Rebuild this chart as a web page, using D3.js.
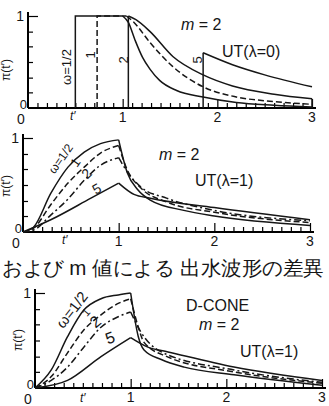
<!DOCTYPE html>
<html>
<head>
<meta charset="utf-8">
<script src="https://cdn.jsdelivr.net/npm/d3@7"></script>
<style>
  body { margin: 0; background: #fff; }
  svg text { font-family: "Liberation Sans", Arial, sans-serif; fill: #161616; }
</style>
</head>
<body>
<svg id="chart" width="329" height="406"></svg>
<script>
//Data, t' on x, pi(t') on y

//Axis ticks
var xTickLabels = [0, 1, 2, 3];
var xMinorTicks = d3.range(1, 31).map(function(d){ return d/10; });
var yMinorTicks = [0.17, 0.33, 0.5, 0.67, 0.83];

//Panel 1: UT (lambda=0)
var ut0_w05 = [[0.5,0],[0.5,1],[1.0,1]];
var ut0_w05_tail = [[1.0,1],[1.06,0.93],[1.13,0.74],[1.21,0.55],[1.29,0.42],[1.39,0.3],[1.57,0.19],[1.85,0.12],[2.2,0.06],[2.6,0.03],[3.0,0.01]];
var ut0_w1 = [[0.73,0],[0.73,1],[1.04,1]];
var ut0_w1_tail = [[1.04,1],[1.12,0.93],[1.29,0.71],[1.53,0.45],[1.85,0.23],[2.2,0.12],[2.6,0.07],[3.0,0.04]];
var ut0_w2 = [[1.06,0],[1.06,1]];
var ut0_w2_tail = [[1.06,1],[1.14,0.96],[1.29,0.83],[1.53,0.56],[1.85,0.36],[2.16,0.24],[2.6,0.15],[3.0,0.10]];
var ut0_w5 = [[1.85,0],[1.85,0.6]];
var ut0_w5_tail = [[1.85,0.6],[2.16,0.47],[2.5,0.36],[3.0,0.23]];

//Panel 2: UT (lambda=1)
var ut1_w05 = [[0,0],[0.11,0.05],[0.29,0.41],[0.47,0.69],[0.64,0.85],[0.81,0.94],[1.0,0.98]];
var ut1_w05_tail = [[1.0,0.98],[1.09,0.63],[1.2,0.45],[1.33,0.34],[1.68,0.23],[2.0,0.17],[3.0,0.07]];
var ut1_w1 = [[0,0],[0.11,0.04],[0.29,0.29],[0.47,0.52],[0.64,0.69],[0.81,0.84],[1.0,0.92]];
var ut1_w1_tail = [[1.0,0.92],[1.09,0.66],[1.23,0.47],[1.5,0.32],[2.0,0.21],[3.0,0.10]];
var ut1_w2 = [[0,0],[0.11,0.02],[0.29,0.18],[0.47,0.35],[0.64,0.55],[0.81,0.71],[1.0,0.79]];
var ut1_w2_tail = [[1.0,0.79],[1.09,0.64],[1.23,0.48],[1.5,0.36],[2.0,0.23],[3.0,0.12]];
var ut1_w5 = [[0,0],[0.29,0.13],[0.71,0.36],[1.0,0.52]];
var ut1_w5_tail = [[1.0,0.52],[1.16,0.4],[1.33,0.36],[2.0,0.26],[3.0,0.13]];

//Panel 3: D-CONE, UT (lambda=1)
var dc_w05 = [[0,0],[0.17,0.19],[0.34,0.54],[0.51,0.82],[0.69,0.94],[0.87,0.98],[1.0,1.0]];
var dc_w05_tail = [[1.0,1.0],[1.08,0.54],[1.14,0.4],[1.32,0.3],[1.56,0.22],[2.08,0.14],[3.0,0.03]];
var dc_w1 = [[0,0],[0.17,0.12],[0.34,0.37],[0.51,0.61],[0.69,0.77],[0.87,0.89],[1.0,0.94]];
var dc_w1_tail = [[1.0,0.94],[1.08,0.64],[1.14,0.48],[1.38,0.33],[2.08,0.17],[3.0,0.05]];
var dc_w2 = [[0,0],[0.17,0.08],[0.34,0.22],[0.51,0.43],[0.69,0.64],[0.87,0.75],[1.0,0.8]];
var dc_w2_tail = [[1.0,0.8],[1.1,0.6],[1.32,0.38],[2.08,0.19],[3.0,0.06]];
var dc_w5 = [[0,0],[0.34,0.08],[0.69,0.33],[1.0,0.53]];
var dc_w5_tail = [[1.0,0.53],[1.18,0.43],[1.39,0.38],[2.08,0.22],[3.0,0.08]];

//line styles
var dashStyles = {solid: null, dashed: "6,3", dashdot: "7,3,2,3"};

var svg = d3.select("#chart");

//---panels: layout only---
var panels = [
  {x0:28, x1:312, yTop:16,  yBase:108, ylab:[10,70], tlab:[70,120],
   series:[[ut0_w05,"solid",true],[ut0_w05_tail,"solid"],[ut0_w1,"dashed",true],[ut0_w1_tail,"dashed"],
           [ut0_w2,"solid",true],[ut0_w2_tail,"solid"],[ut0_w5,"solid",true],[ut0_w5_tail,"solid"]]},
  {x0:23, x1:310, yTop:138, yBase:232, ylab:[10,186], tlab:[62,244],
   series:[[ut1_w05,"solid"],[ut1_w05_tail,"solid"],[ut1_w1,"dashed"],[ut1_w1_tail,"dashed"],
           [ut1_w2,"dashdot"],[ut1_w2_tail,"dashdot"],[ut1_w5,"solid"],[ut1_w5_tail,"solid"]]},
  {x0:35, x1:322, yTop:293, yBase:388, ylab:[22,340], tlab:[80,402],
   series:[[dc_w05,"solid"],[dc_w05_tail,"solid"],[dc_w1,"dashed"],[dc_w1_tail,"dashed"],
           [dc_w2,"dashdot"],[dc_w2_tail,"dashdot"],[dc_w5,"solid"],[dc_w5_tail,"solid"]]}
];

panels.forEach(function(p){
  var x = d3.scaleLinear().domain([0,3]).range([p.x0,p.x1]);
  var y = d3.scaleLinear().domain([0,1]).range([p.yBase,p.yTop]);
  p.x = x; p.y = y;
  var g = svg.append("g");

  //axes with inward ticks
  var xa = g.append("g").attr("transform","translate(0,"+p.yBase+")")
    .call(d3.axisTop(x).tickValues(xMinorTicks).tickSize(5).tickFormat("").tickSizeOuter(0));
  xa.selectAll(".tick line").attr("stroke-width",1.2)
    .attr("y2",function(d){ return Math.abs(d-Math.round(d))<1e-6 ? -9 : -5; });
  xa.select(".domain").attr("stroke-width",2).attr("d","M"+x(0)+",0H"+(x(3)+4));

  var ya = g.append("g").attr("transform","translate("+p.x0+",0)")
    .call(d3.axisRight(y).tickValues(yMinorTicks.concat([1])).tickSize(5).tickFormat("").tickSizeOuter(0));
  ya.selectAll(".tick line").attr("stroke-width",1.2)
    .attr("x2",function(d){ return d===1 ? 10 : 5; });
  ya.select(".domain").attr("stroke-width",2).attr("d","M0,"+y(0)+"V"+(y(1)-4));

  //tick labels
  g.selectAll(".xl").data(xTickLabels).enter().append("text")
    .attr("x",function(d){ return d===0 ? x(d)-7 : x(d); })
    .attr("y",function(d){ return d===0 ? p.yBase+16 : p.yBase+14; })
    .attr("text-anchor","middle").attr("font-size",14)
    .text(function(d){ return d; });
  g.append("text").attr("x",p.x0-4).attr("y",y(1)+5).attr("text-anchor","end").attr("font-size",14).text("1");
  g.append("text").attr("x",p.x0-1).attr("y",y(0)+1).attr("text-anchor","end").attr("font-size",13).text("0");

  //axis titles
  g.append("text").attr("transform","translate("+p.ylab[0]+","+p.ylab[1]+") rotate(-90)")
    .attr("text-anchor","middle").attr("font-size",12).attr("font-family","DejaVu Serif").text("π(t′)");
  g.append("text").attr("x",p.tlab[0]).attr("y",p.tlab[1]).attr("font-size",12)
    .attr("font-style","italic").attr("font-family","DejaVu Serif").text("t′");

  //curves
  var curveLine = d3.line().x(function(d){ return x(d[0]); }).y(function(d){ return y(d[1]); });
  p.series.forEach(function(s){
    var gen = s[2] ? curveLine.curve(d3.curveLinear) : curveLine.curve(d3.curveMonotoneX);
    g.append("path").attr("d",gen(s[0])).attr("fill","none").attr("stroke","#161616")
      .attr("stroke-width",1.5).attr("stroke-dasharray",dashStyles[s[1]]);
  });
});

//end marks at t'=3 in panel 1
var p1 = panels[0];
svg.append("path").attr("d","M"+p1.x(3)+","+p1.y(0)+"V"+p1.y(0.1))
  .attr("stroke","#161616").attr("stroke-width",1.5);

//annotations
function mEq(xp, yp){
  var t = svg.append("text").attr("x",xp).attr("y",yp).attr("font-size",16);
  t.append("tspan").attr("font-style","italic").text("m");
  t.append("tspan").text(" = 2");
}
function label(txt, xp, yp, ang, size){
  svg.append("text").attr("transform","translate("+xp+","+yp+") rotate("+ang+")")
    .attr("text-anchor","middle").attr("font-size",size||13).text(txt);
}

//panel 1
mEq(181,30);
svg.append("text").attr("x",222).attr("y",57).attr("font-size",16).text("UT(λ=0)");
label("ω=1/2",71,67,-90);
label("1",95,55,-90);
label("2",128,60,-90);
label("5",202,60,-90);

//panel 2
mEq(159,160);
svg.append("text").attr("x",195).attr("y",186).attr("font-size",16).text("UT(λ=1)");
label("ω=1/2",64,161,-55,12);
label("1",79,165,-55,13);
label("2",90,177,-45,14);
label("5",99,193,-30,14);

//caption
svg.append("text").attr("x",2).attr("y",275).attr("font-size",20).attr("font-weight",500)
  .attr("font-family","Noto Sans CJK JP").attr("textLength",322).attr("lengthAdjust","spacingAndGlyphs")
  .text("および m 値による 出水波形の差異");

//panel 3
svg.append("text").attr("x",186).attr("y",311).attr("font-size",16).text("D-CONE");
mEq(199,330);
svg.append("text").attr("x",240).attr("y",357).attr("font-size",16).text("UT(λ=1)");
label("ω=1/2",76,313,-52,15);
label("1",89,315,-50,11);
label("2",99,326,-40,16);
label("5",112,343,-20,16);
</script>
</body>
</html>
